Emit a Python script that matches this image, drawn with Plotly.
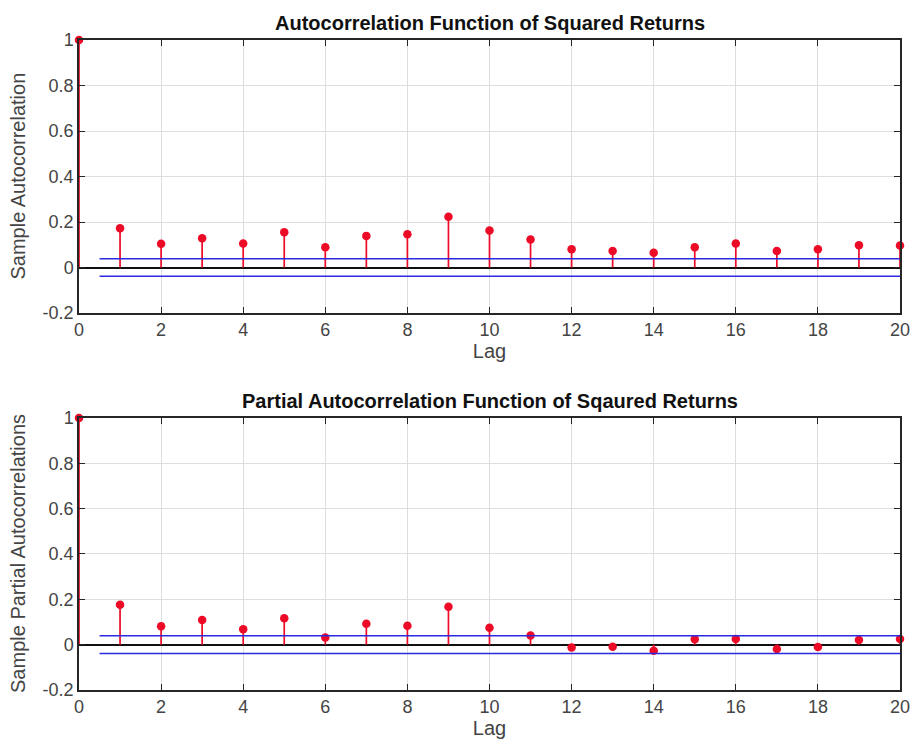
import plotly.graph_objects as go

lags = list(range(0, 21))
acf_vals = [1.0, 0.173, 0.104, 0.129, 0.105, 0.155, 0.089, 0.139, 0.146, 0.223, 0.163,
            0.123, 0.080, 0.073, 0.065, 0.089, 0.105, 0.073, 0.080, 0.098, 0.097]
pacf_vals = [1.0, 0.176, 0.081, 0.109, 0.068, 0.117, 0.032, 0.092, 0.083, 0.167, 0.075,
             0.040, -0.012, -0.009, -0.027, 0.024, 0.025, -0.019, -0.010, 0.021, 0.025]
acf_bound = 0.038
pacf_bound = 0.039
bound_lags = [0.5, 20]

x_ticks = [0, 2, 4, 6, 8, 10, 12, 14, 16, 18, 20]
y_ticks = [-0.2, 0, 0.2, 0.4, 0.6, 0.8, 1]
y_tick_text = ["-0.2", "0", "0.2", "0.4", "0.6", "0.8", "1"]

titles = ["Autocorrelation Function of Squared Returns",
          "Partial Autocorrelation Function of Sqaured Returns"]
ylabels = ["Sample Autocorrelation", "Sample Partial Autocorrelations"]

FONT = "Liberation Sans, Arial, Helvetica, sans-serif"
RED = "#ec0a26"
BLUE = "#2a2ae0"
TXT = "#444444"

fig = go.Figure()

def add_panel(vals, bound, xa, ya):
    sx, sy = [], []
    for l, v in zip(lags, vals):
        sx += [l, l, None]
        sy += [0, v, None]
    fig.add_trace(go.Scatter(x=sx, y=sy, mode="lines", line=dict(color=RED, width=1.7),
                             xaxis=xa, yaxis=ya, showlegend=False, hoverinfo="skip",
                             cliponaxis=False))
    fig.add_trace(go.Scatter(x=lags, y=vals, mode="markers",
                             marker=dict(color=RED, size=8.5),
                             xaxis=xa, yaxis=ya, showlegend=False, cliponaxis=False))
    for b in (bound, -bound):
        fig.add_trace(go.Scatter(x=bound_lags, y=[b, b], mode="lines",
                                 line=dict(color=BLUE, width=1.5),
                                 xaxis=xa, yaxis=ya, showlegend=False, hoverinfo="skip"))

add_panel(acf_vals, acf_bound, "x", "y")
add_panel(pacf_vals, pacf_bound, "x2", "y2")

axis_common = dict(showline=True, linecolor="#262626", linewidth=1.5, mirror="ticks",
                   ticks="inside", ticklen=6, tickcolor="#262626", tickwidth=1.2,
                   showgrid=True, gridcolor="#dedede", gridwidth=1, automargin=False,
                   tickfont=dict(family=FONT, size=18, color=TXT))

xcommon = dict(axis_common, range=[0, 20], tickvals=x_ticks, zeroline=False,
               title=dict(text="Lag", font=dict(family=FONT, size=20, color=TXT), standoff=2))
ycommon = dict(axis_common, range=[-0.2, 1], tickvals=y_ticks, ticktext=y_tick_text,
               zeroline=True, zerolinecolor="#111111", zerolinewidth=2)

top_dom = [0.58, 1]
bot_dom = [0, 0.4185]

fig.update_layout(
    width=911, height=740,
    margin=dict(l=79, r=11, t=40, b=50),
    paper_bgcolor="white", plot_bgcolor="white",
    xaxis=dict(xcommon, domain=[0, 1], anchor="y"),
    yaxis=dict(ycommon, domain=top_dom, anchor="x"),
    xaxis2=dict(xcommon, domain=[0, 1], anchor="y2"),
    yaxis2=dict(ycommon, domain=bot_dom, anchor="x2"),
)

for i, dom in enumerate([top_dom, bot_dom]):
    fig.add_annotation(text="<b>" + titles[i] + "</b>", x=0.5, y=dom[1], xref="paper", yref="paper",
                       xanchor="center", yanchor="bottom", yshift=4, showarrow=False,
                       font=dict(family=FONT, size=20, color="#111111"))
    fig.add_annotation(text=ylabels[i], x=0, y=(dom[0] + dom[1]) / 2, xref="paper", yref="paper",
                       xanchor="center", yanchor="middle", xshift=-61, textangle=-90,
                       showarrow=False, font=dict(family=FONT, size=20, color=TXT))

fig.write_html("out.html")
